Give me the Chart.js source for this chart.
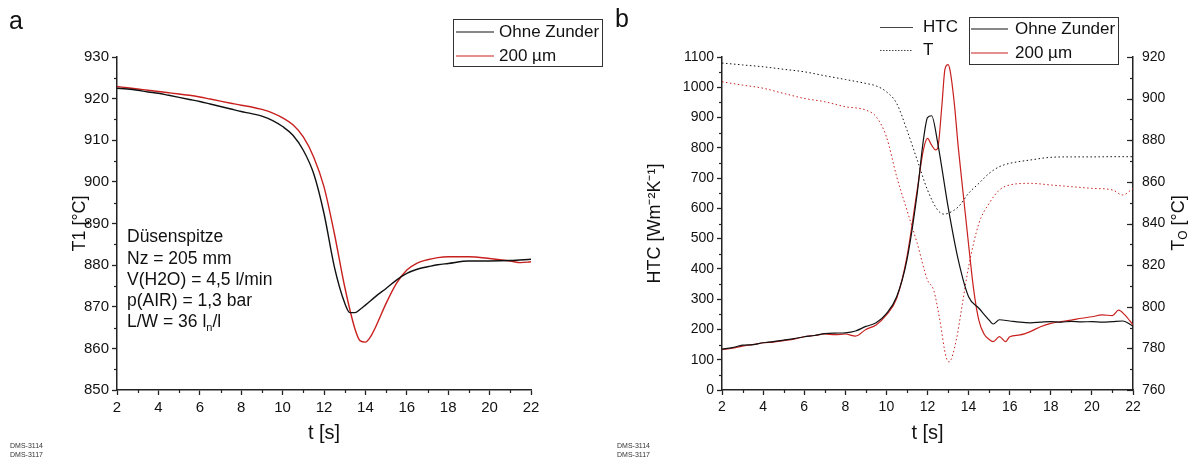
<!DOCTYPE html>
<html><head><meta charset="utf-8">
<script src="https://cdn.jsdelivr.net/npm/chart.js@4"></script>
<style>
html,body{margin:0;padding:0;background:#fff;width:1191px;height:460px;overflow:hidden}
canvas{position:absolute;left:0;top:0}
</style></head><body>
<canvas id="cA" width="1191" height="460"></canvas>
<canvas id="cB" width="1191" height="460"></canvas>
<script>
const FONT = "'Liberation Sans', Arial, Helvetica, sans-serif";
const INK = '#111';
const RED = '#c8201e';

// ---------- Panel a : T1 over t ----------
const tA_ohne = [2,2.5,3,3.5,4,4.5,5,5.5,6,6.5,7,7.5,8,8.5,9,9.5,10,10.5,11,11.5,12,12.5,13,13.25,13.5,13.75,14,14.5,15,15.5,16,16.5,17,17.5,18,19,20,21,22];
const T1_ohne = [922.5,922.3,922.0,921.6,921.3,920.8,920.3,919.8,919.3,918.7,918.1,917.5,916.9,916.4,915.8,914.8,913.3,911.2,907.6,902.0,892.4,879.6,870.9,868.6,868.6,869.4,870.4,872.5,874.4,876.4,878.0,879.0,879.6,880.1,880.4,881.0,881.0,881.1,881.4];
const tA_200 = [2,2.5,3,3.5,4,4.5,5,5.5,6,6.5,7,7.5,8,8.5,9,9.5,10,10.5,11,11.5,12,12.5,13,13.5,13.75,14,14.25,14.5,15,15.5,16,16.5,17,17.5,18,19,20,21,21.5,22];
const T1_200 = [922.9,922.6,922.3,922.0,921.7,921.4,921.1,920.8,920.4,919.9,919.4,918.9,918.4,918.0,917.4,916.6,915.4,913.7,910.8,906.0,898.8,887.6,874.8,864.6,861.8,861.5,862.8,865.2,870.8,875.6,878.8,880.5,881.3,881.8,882.0,882.0,881.6,881.0,880.6,880.8];

// ---------- Panel b : HTC and surface temperature ----------
const tB_htcOhne = [2,2.5,3,3.5,4,4.5,5,5.5,6,6.5,7,7.5,8,8.5,9,9.5,10,10.5,11,11.5,11.8,12,12.2,12.5,13,13.5,14,14.5,15,15.2,15.5,16,16.5,17,17.5,18,18.5,19,19.5,20,20.5,21,21.5,22];
const htcOhne = [135,140,148,150,156,160,165,170,176,180,186,188,189,195,210,222,252,308,430,650,826,900,906,815,606,429,308,270,231,218,232,228,224,222,224,226,224,227,225,226,224,226,228,211];
const tB_htc200 = [2,2.5,3,3.5,4,4.5,5,5.5,6,6.5,7,7.5,8,8.5,9,9.5,10,10.5,11,11.5,11.8,12,12.2,12.4,12.5,12.7,12.85,13,13.1,13.3,13.5,13.75,14,14.25,14.5,14.75,15,15.2,15.5,15.8,16,16.5,17,17.5,18,18.5,19,19.5,20,20.5,21,21.3,21.6,22];
const htc200 = [133,138,145,150,156,158,163,168,176,180,185,183,185,178,200,215,248,303,440,661,793,831,809,793,800,940,1060,1075,1055,950,800,640,480,330,230,185,167,160,176,160,176,182,193,209,220,226,231,237,242,248,246,264,248,215];
const tB_TOhne = [2,3,4,5,6,7,8,9,9.5,10,10.5,11,11.5,12,12.5,12.8,13,13.5,14,14.5,15,15.5,16,17,18,19,20,21,22];
const TOhne = [917.1,916.2,915.3,914.1,912.9,911.0,909.2,907.3,906.1,903.3,897.7,884.9,870.5,856.1,846.4,844.5,844.9,848.0,854.5,859.3,864.1,867.3,868.9,870.5,871.8,872.0,872.0,872.1,872.1];
const tB_T200 = [2,3,4,5,6,7,8,9,9.5,10,10.5,11,11.5,12,12.3,12.6,12.9,13.05,13.4,13.7,14,14.5,15,15.5,16,17,18,19,20,21,21.5,22];
const T200 = [908.1,906.5,905.0,902.5,900.1,898.5,896.1,894.5,891.3,881.7,862.5,846.4,830.4,812.8,808.0,793.6,775.9,773.5,784.0,801.6,819.2,840.0,849.7,856.1,858.5,859.3,858.5,857.7,856.9,856.1,853.7,856.9];

// ---------- texts ----------
const seriesLabels = ['Ohne Zunder', '200 \u00b5m'];
const panelLabels = ['a', 'b'];
const styleLabels = ['HTC', 'T'];
const noteLines = ['D\u00fcsenspitze', 'Nz = 205 mm', 'V(H2O) = 4,5 l/min', 'p(AIR) = 1,3 bar'];
const noteLast = ['L/W = 36 l', 'n', '/l'];
const dmsLines = ['DMS-3114', 'DMS-3117'];
const xTitle = 't [s]';
const yTitleA = 'T1 [\u00b0C]';
const yTitleB = 'HTC [Wm\u207b\u00b2K\u207b\u00b9]';
const y2TitleB = ['T', 'O', ' [\u00b0C]'];

const pts = (xs, ys) => xs.map((x, i) => ({x, y: ys[i]}));
const range = (a, b, s) => { const r = []; for (let v = a; v <= b + 1e-9; v += s) r.push(+v.toFixed(6)); return r; };

// minor ticks / inward ticks
const tickPlugin = {
  id: 'tickPlugin',
  afterDraw(chart, args, opts) {
    const ctx = chart.ctx; ctx.save();
    ctx.strokeStyle = '#222'; ctx.lineWidth = 1.2;
    (opts.list || []).forEach(({id, values, len, inward}) => {
      const s = chart.scales[id];
      values.forEach(v => {
        const p = Math.round(s.getPixelForValue(v)) + 0.5;
        ctx.beginPath();
        if (s.isHorizontal()) { ctx.moveTo(p, s.top); ctx.lineTo(p, s.top + len); }
        else if (s.position === 'left') { ctx.moveTo(s.right, p); ctx.lineTo(s.right - len, p); }
        else { const d = inward ? -len : len; ctx.moveTo(s.left, p); ctx.lineTo(s.left + d, p); }
        ctx.stroke();
      });
    });
    ctx.restore();
  }
};

function seriesLegend(ctx, datasets, x, y, w, h, lx0, lx1, tx, rows) {
  ctx.save();
  ctx.strokeStyle = '#333'; ctx.lineWidth = 1;
  ctx.strokeRect(x, y, w, h);
  ctx.font = `17px ${FONT}`; ctx.fillStyle = INK; ctx.textBaseline = 'middle';
  datasets.forEach((ds, i) => {
    ctx.strokeStyle = ds.borderColor; ctx.lineWidth = 1.2; ctx.setLineDash([]);
    ctx.beginPath(); ctx.moveTo(lx0, rows[i]); ctx.lineTo(lx1, rows[i]); ctx.stroke();
    ctx.fillText(ds.label, tx, rows[i]);
  });
  ctx.restore();
}

function runs(ctx, x, y, parts) {
  let cx = x;
  parts.forEach(([t, size, dy]) => {
    ctx.font = `${size}px ${FONT}`;
    ctx.fillText(t, cx, y + dy);
    cx += ctx.measureText(t).width;
  });
  return cx - x;
}

function dms(ctx, x) {
  ctx.save();
  ctx.font = `7px ${FONT}`; ctx.fillStyle = '#333'; ctx.textBaseline = 'alphabetic';
  ctx.fillText(dmsLines[0], x, 448);
  ctx.fillText(dmsLines[1], x, 457);
  ctx.restore();
}

const overlayA = {
  id: 'overlayA',
  afterDraw(chart) {
    const ctx = chart.ctx; ctx.save();
    ctx.fillStyle = INK; ctx.textBaseline = 'alphabetic';
    ctx.font = `25px ${FONT}`; ctx.fillText(panelLabels[0], 9, 29);
    seriesLegend(ctx, chart.data.datasets, 453.5, 19.5, 149, 47, 456, 494, 499, [32, 56]);
    ctx.fillStyle = INK; ctx.textBaseline = 'middle';
    ctx.font = `17.5px ${FONT}`;
    const ys = [237, 259, 280, 301];
    noteLines.forEach((t, i) => ctx.fillText(t, 127, ys[i]));
    runs(ctx, 127, 322, [[noteLast[0], 17.5, 0], [noteLast[1], 11, 6], [noteLast[2], 17.5, 0]]);
    dms(ctx, 10);
    ctx.restore();
  }
};

const overlayB = {
  id: 'overlayB',
  afterDraw(chart) {
    const ctx = chart.ctx; ctx.save();
    ctx.fillStyle = INK; ctx.textBaseline = 'alphabetic';
    ctx.font = `25px ${FONT}`; ctx.fillText(panelLabels[1], 615, 27);
    ctx.strokeStyle = '#444'; ctx.lineWidth = 1;
    ctx.beginPath(); ctx.moveTo(880, 27.5); ctx.lineTo(913, 27.5); ctx.stroke();
    ctx.setLineDash([1.5, 1.5]);
    ctx.beginPath(); ctx.moveTo(880, 50.5); ctx.lineTo(913, 50.5); ctx.stroke();
    ctx.setLineDash([]);
    ctx.font = `17px ${FONT}`; ctx.textBaseline = 'middle';
    ctx.fillText(styleLabels[0], 923, 27);
    ctx.fillText(styleLabels[1], 923, 50);
    seriesLegend(ctx, chart.data.datasets.slice(0, 2), 969.5, 17.5, 149, 47, 971, 1008, 1015, [29, 53]);
    ctx.save();
    ctx.translate(1179, 223); ctx.rotate(-Math.PI / 2);
    ctx.fillStyle = INK; ctx.textBaseline = 'middle';
    let w = 0;
    [[y2TitleB[0], 18], [y2TitleB[1], 12], [y2TitleB[2], 18]].forEach(([t, s]) => { ctx.font = `${s}px ${FONT}`; w += ctx.measureText(t).width; });
    runs(ctx, -w / 2, 0, [[y2TitleB[0], 18, 0], [y2TitleB[1], 12, 5], [y2TitleB[2], 18, 0]]);
    ctx.restore();
    dms(ctx, 617);
    ctx.restore();
  }
};

const plain = v => String(v);

const axisBase = (size) => ({
  ticks: {color: INK, font: {family: FONT, size}, padding: 3, callback: plain},
  grid: {drawOnChartArea: false, drawTicks: true, tickLength: 5, tickColor: '#222', tickWidth: 1.3},
  border: {display: true, color: '#222', width: 1.5}
});

function xAxis(size) {
  const a = axisBase(size);
  return {
    type: 'linear', position: 'bottom', min: 2, max: 22,
    ticks: {...a.ticks, stepSize: 2, padding: 4},
    grid: a.grid, border: a.border,
    title: {display: true, text: xTitle, color: INK, font: {family: FONT, size: 20}, padding: {top: 0, bottom: 15}},
    afterFit: s => { s.height = 70; }
  };
}

Chart.defaults.font.family = FONT;

new Chart(document.getElementById('cA'), {
  type: 'line',
  data: {datasets: [
    {label: seriesLabels[0], data: pts(tA_ohne, T1_ohne), borderColor: INK, borderWidth: 1.4, pointRadius: 0, cubicInterpolationMode: 'monotone'},
    {label: seriesLabels[1], data: pts(tA_200, T1_200), borderColor: RED, borderWidth: 1.4, pointRadius: 0, cubicInterpolationMode: 'monotone'}
  ]},
  options: {
    responsive: false, animation: false, devicePixelRatio: 1,
    layout: {padding: {left: 0, top: 57, right: 660, bottom: 0}},
    plugins: {legend: {display: false}, tooltip: {enabled: false},
      tickPlugin: {list: [
        {id: 'x', values: range(3, 21, 2), len: 3},
        {id: 'y', values: range(855, 925, 10), len: 3}
      ]}},
    scales: {
      x: xAxis(15),
      y: {
        type: 'linear', position: 'left', min: 850, max: 930,
        ...axisBase(15),
        ticks: {...axisBase(15).ticks, stepSize: 10},
        title: {display: true, text: yTitleA, color: INK, font: {family: FONT, size: 18}, padding: {top: 69, bottom: 0}},
        afterFit: s => { s.width = 117; }
      }
    }
  },
  plugins: [tickPlugin, overlayA]
});

new Chart(document.getElementById('cB'), {
  type: 'line',
  data: {datasets: [
    {label: seriesLabels[0], data: pts(tB_htcOhne, htcOhne), borderColor: INK, borderWidth: 1.2, pointRadius: 0, yAxisID: 'y', cubicInterpolationMode: 'monotone'},
    {label: seriesLabels[1], data: pts(tB_htc200, htc200), borderColor: RED, borderWidth: 1.2, pointRadius: 0, yAxisID: 'y', cubicInterpolationMode: 'monotone'},
    {label: 'T ' + seriesLabels[0], data: pts(tB_TOhne, TOhne), borderColor: INK, borderWidth: 1, borderDash: [1.5, 2.5], pointRadius: 0, yAxisID: 'y2', cubicInterpolationMode: 'monotone'},
    {label: 'T ' + seriesLabels[1], data: pts(tB_T200, T200), borderColor: RED, borderWidth: 1, borderDash: [1.5, 2.5], pointRadius: 0, yAxisID: 'y2', cubicInterpolationMode: 'monotone'}
  ]},
  options: {
    responsive: false, animation: false, devicePixelRatio: 1,
    layout: {padding: {left: 605, top: 57, right: 0, bottom: 0}},
    plugins: {legend: {display: false}, tooltip: {enabled: false},
      tickPlugin: {list: [
        {id: 'x', values: range(3, 21, 2), len: 3},
        {id: 'y', values: range(50, 1050, 100), len: 3},
        {id: 'y2', values: range(770, 910, 10), len: 3, inward: true},
        {id: 'y2', values: range(760, 920, 20), len: 6, inward: true}
      ]}},
    scales: {
      x: xAxis(14),
      y: {
        type: 'linear', position: 'left', min: 0, max: 1100,
        ...axisBase(14),
        ticks: {...axisBase(14).ticks, stepSize: 100},
        title: {display: true, text: yTitleB, color: INK, font: {family: FONT, size: 18}, padding: {top: 39, bottom: 0}},
        afterFit: s => { s.width = 117; }
      },
      y2: {
        type: 'linear', position: 'right', min: 760, max: 920,
        ticks: {color: INK, font: {family: FONT, size: 14}, padding: 9, stepSize: 20, callback: plain},
        grid: {drawOnChartArea: false, drawTicks: false},
        border: {display: true, color: '#222', width: 1.5},
        afterFit: s => { s.width = 58; }
      }
    }
  },
  plugins: [tickPlugin, overlayB]
});
</script>
</body></html>
